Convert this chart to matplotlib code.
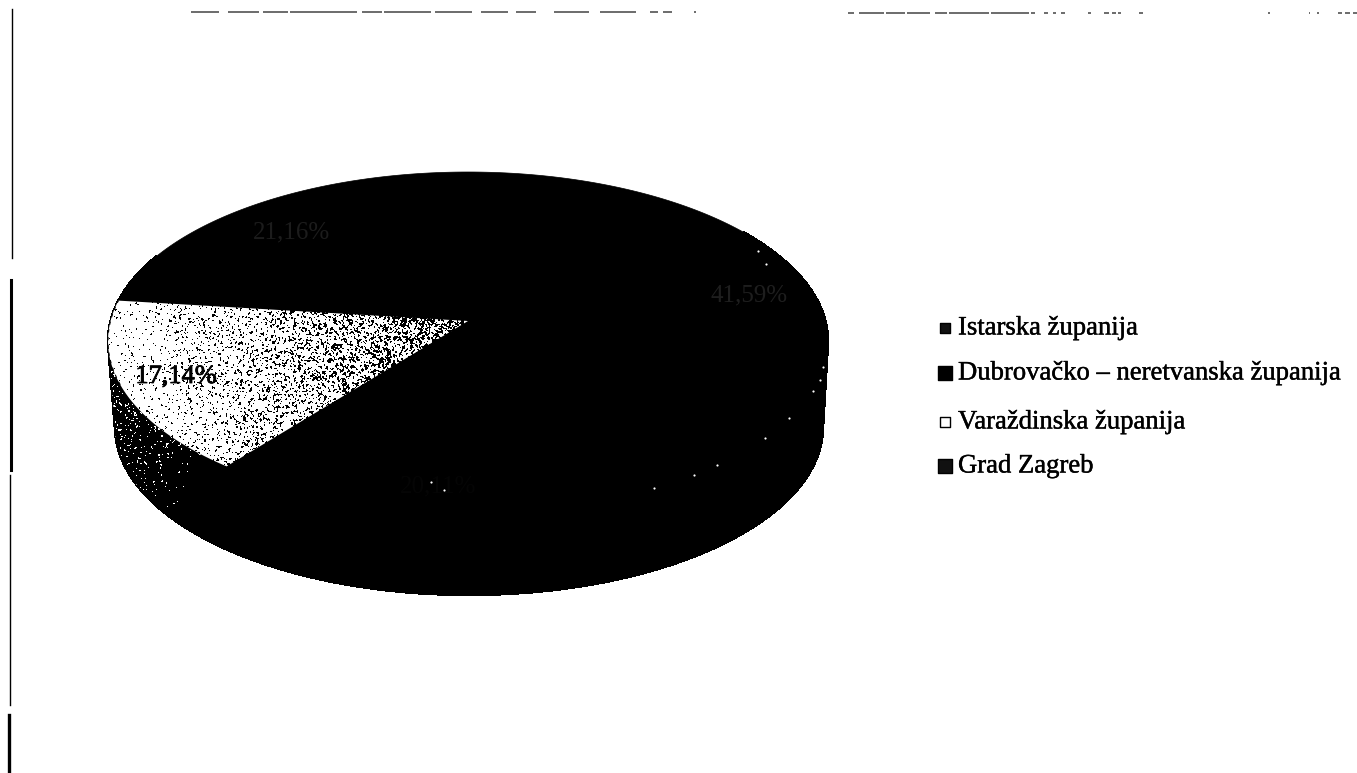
import numpy as np
import matplotlib
matplotlib.use("Agg")
import matplotlib.pyplot as plt
import matplotlib.patheffects as pe
from matplotlib.collections import PolyCollection
from matplotlib.patches import Polygon

# data (only 17,14 is really legible, the rest is black on black)
categories = ["Istarska županija", "Dubrovačko – neretvanska županija",
              "Varaždinska županija", "Grad Zagreb"]
values = [41.59, 20.11, 17.14, 21.16]
value_labels = ["41,59%", "20,11%", "17,14%", "21,16%"]

# faint print-through of the scan, left in as small specks
speck_x = [823, 820, 813, 789, 765, 717, 694, 654, 431, 444, 766, 758]
speck_y = [367, 380, 391, 418, 438, 465, 475, 488, 482, 490, 264, 251]

# dashes of the cut off frame on top of the scan
top_dashes = [(191, 219), (228, 259), (263, 288), (290, 357), (362, 382), (384, 431),
              (435, 472), (481, 508), (516, 536), (554, 589), (600, 636), (650, 658),
              (663, 672), (694, 696), (848, 854), (859, 884), (886, 905), (907, 930),
              (935, 947), (949, 989), (991, 1029), (1031, 1035), (1044, 1048),
              (1053, 1056), (1061, 1065), (1088, 1091), (1104, 1109), (1112, 1116),
              (1118, 1121), (1139, 1143), (1268, 1270), (1309, 1310), (1317, 1319),
              (1338, 1342), (1345, 1350), (1353, 1357)]

WIDTH, HEIGHT = 1357, 773
CX, CY = 468, 341
RX, RY = 360, 169
APEX = (468, 321)
BOTTOM_CX, BOTTOM_CY = 469, 427
BOTTOM_RX, BOTTOM_RY = 354, 168
SERIF = "Liberation Serif"


def top_arc(start, stop, n=120):
    t = np.radians(np.linspace(start, stop, n))
    return np.column_stack([CX + RX * np.sin(t), CY - RY * np.cos(t)])


def bottom_arc(start, stop, n=120):
    t = np.radians(np.linspace(start, stop, n))
    return np.column_stack([BOTTOM_CX + BOTTOM_RX * np.sin(t), BOTTOM_CY - BOTTOM_RY * np.cos(t)])


def grain_field():
    # halftone screen: hashed pixels, smeared a bit so the dots clump like the scan, then ranked 0..1
    yy, xx = np.mgrid[0:HEIGHT, 0:WIDTH]
    hashed = (np.sin(xx * 12.9898 + yy * 78.233) * 43758.5453) % 1.0
    smeared = hashed.copy()
    for dx, dy in [(1, 0), (0, 1), (1, 1)]:
        smeared += np.roll(np.roll(hashed, dx, axis=1), dy, axis=0)
    ranks = np.empty(smeared.size)
    ranks[np.argsort(smeared, axis=None)] = np.linspace(0, 1, smeared.size)
    return ranks.reshape(smeared.shape)


def speckle(ax, clip_patch, amount, dot, back, zorder):
    on = grain < amount
    rgb = np.where(on[..., None], dot, back).astype(np.uint8)
    image = ax.imshow(rgb, extent=(0, WIDTH, HEIGHT, 0), interpolation="nearest",
                      aspect="auto", zorder=zorder)
    image.set_clip_path(clip_patch)


fig = plt.figure(figsize=(WIDTH / 100, HEIGHT / 100), dpi=100)
ax = fig.add_axes([0, 0, 1, 1])
ax.axis("off")

grain = grain_field()
yy, xx = np.mgrid[0:HEIGHT, 0:WIDTH]

edges = np.cumsum([0] + values) * 3.6
var_start, var_stop = edges[2], edges[3]

# side wall from small quads so the outline stays smooth, then the top disc
top_pts = top_arc(50, 300, 250)
bottom_pts = bottom_arc(50, 300, 250)
quads = [[top_pts[i], top_pts[i + 1], bottom_pts[i + 1], bottom_pts[i]] for i in range(249)]
ax.add_collection(PolyCollection(quads, facecolors="black", edgecolors="black", linewidths=1.0,
                                 antialiaseds=False, zorder=1))
ax.add_patch(Polygon(top_arc(0, 360, 360), closed=True, fc="black", ec="black", lw=0.5, zorder=2))

# speckled wall below the Varaždinska slice
front = np.vstack([top_arc(var_start, 270), bottom_arc(var_start, 270)[::-1]])
wall_patch = Polygon(front, closed=True, fc="none", ec="none")
ax.add_patch(wall_patch)
wall_amount = np.clip(0.11 - (xx - 110) * 0.0007 - (yy - 380) * 0.0005, 0, 0.11)
speckle(ax, wall_patch, wall_amount, [255, 255, 255], [0, 0, 0], 3)

# Varaždinska slice, white going grey towards the centre
slice_xy = np.vstack([[APEX], top_arc(var_start, var_stop)])
slice_patch = Polygon(slice_xy, closed=True, fc="none", ec="none")
ax.add_patch(slice_patch)
slice_amount = 0.05 + np.clip((xx - 110) / (APEX[0] - 110), 0, 1) ** 1.6 * 0.5
speckle(ax, slice_patch, slice_amount, [0, 0, 0], [255, 255, 255], 4)

ax.set_xlim(0, WIDTH)
ax.set_ylim(HEIGHT, 0)

rim = top_arc(255, var_stop, 40)
ax.plot(rim[:, 0], rim[:, 1], color="black", lw=0.8, ls=(0, (3, 4)), zorder=5)

ax.scatter(speck_x, speck_y, s=2.5, color="white", linewidths=0, zorder=5)

# value labels, only the one on the white slice can be seen
heavy = [pe.withStroke(linewidth=0.6, foreground="black")]
ax.text(176, 377, value_labels[2], family=SERIF, fontsize=19, color="black",
        ha="center", va="center", zorder=6, path_effects=heavy)
ax.text(749, 295, value_labels[0], family=SERIF, fontsize=18, color="#1e1e1e",
        ha="center", va="center", zorder=6)
ax.text(292, 232, value_labels[3], family=SERIF, fontsize=18, color="#1c1c1c",
        ha="center", va="center", zorder=6)
ax.text(438, 486, value_labels[1], family=SERIF, fontsize=18, color="#050505",
        ha="center", va="center", zorder=6)

# legend
legend_y = [328, 373, 422, 466]
legend_sizes = [62, 110, 45, 90]
legend_faces = ["#111111", "black", "white", "#111111"]
medium = [pe.withStroke(linewidth=0.3, foreground="black")]
for name, y, size, face in zip(categories, legend_y, legend_sizes, legend_faces):
    ax.scatter([945], [y], s=size, marker="s", color=face, edgecolors="black",
               linewidths=1.0, zorder=6)
    ax.text(958, y, name, family=SERIF, fontsize=19.2, color="black",
            ha="left", va="center", zorder=6, path_effects=medium)

# scan remains of the frame
for x0, x1 in top_dashes:
    y = 12 if x0 < 800 else 13
    ax.plot([x0, x1], [y, y], color="#444444", lw=1.1, solid_capstyle="butt", zorder=1)
ax.plot([11.5, 11.5], [9, 258], color="black", lw=1.0, zorder=1)
ax.plot([10.5, 10.5], [280, 470], color="black", lw=2.2, zorder=1)
ax.plot([10, 10], [475, 705], color="black", lw=1.0, zorder=1)
ax.plot([9, 9], [715, 773], color="black", lw=2.4, zorder=1)

fig.savefig("out.png", dpi=100)
